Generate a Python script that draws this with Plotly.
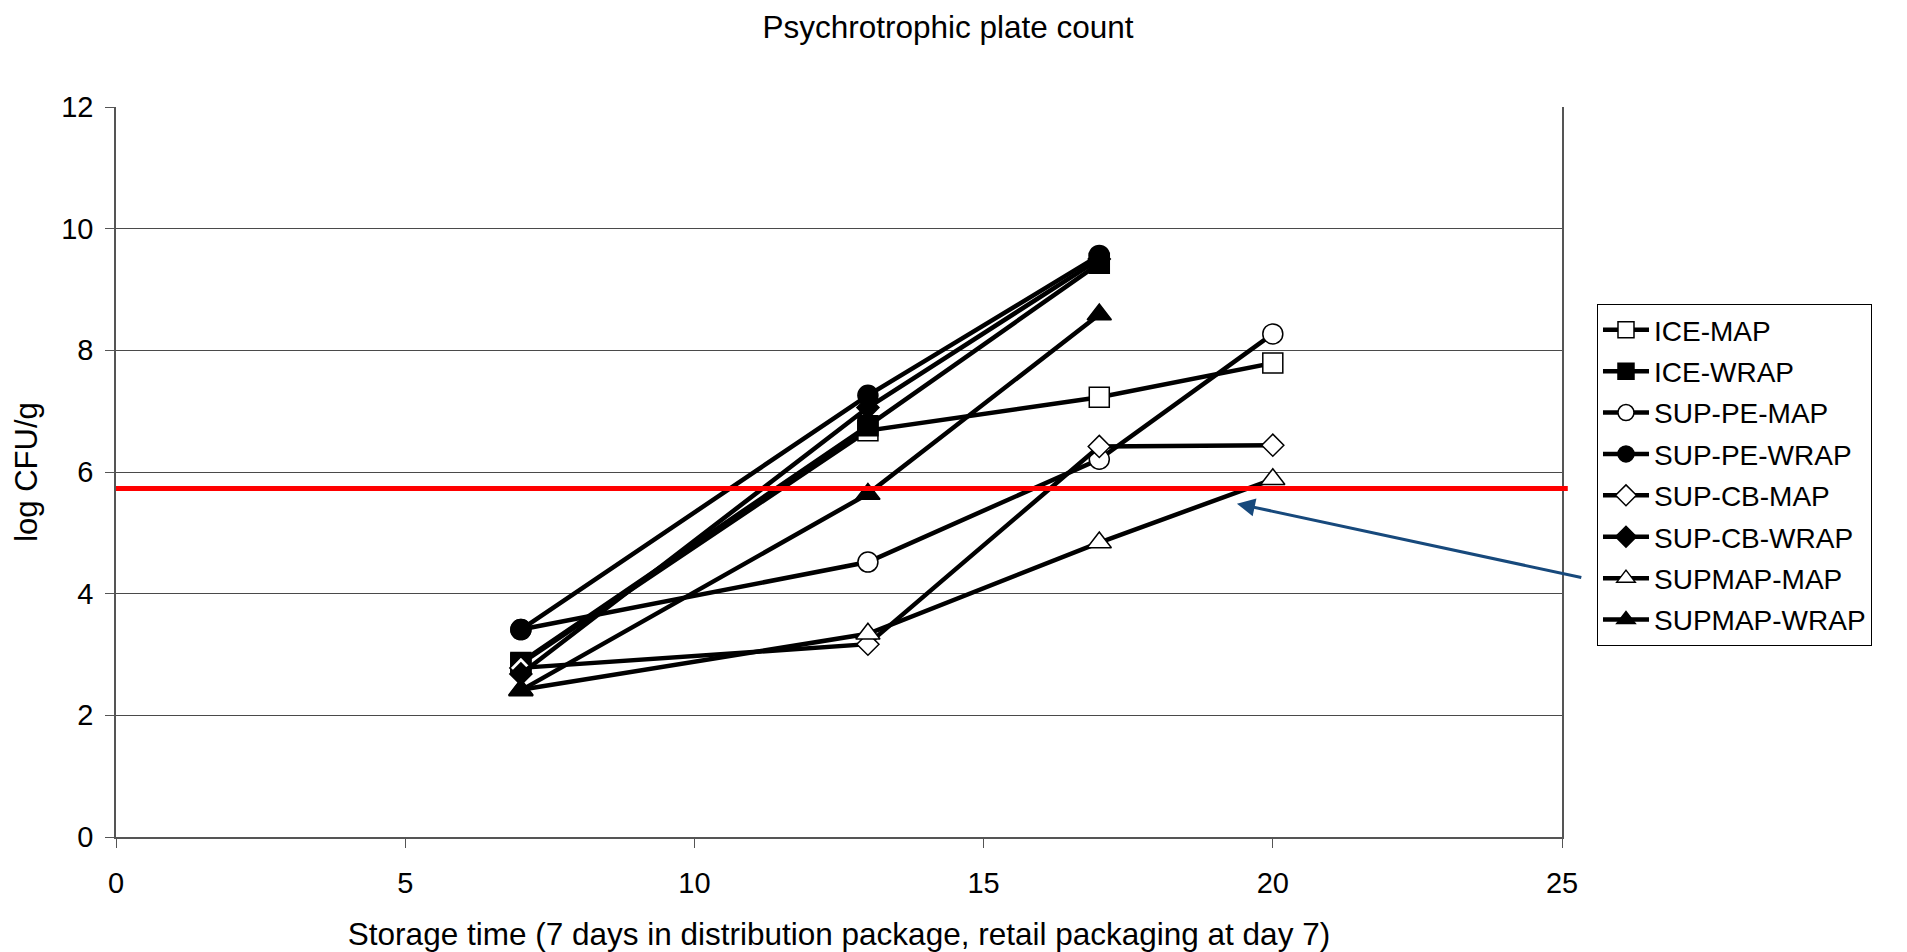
import plotly.graph_objects as go

# ---- data ----
series_names = ["ICE-MAP", "ICE-WRAP", "SUP-PE-MAP", "SUP-PE-WRAP",
                "SUP-CB-MAP", "SUP-CB-WRAP", "SUPMAP-MAP", "SUPMAP-WRAP"]
days_map = [7, 13, 17, 20]
days_wrap = [7, 13, 17]

ice_map = [2.85, 6.68, 7.23, 7.79]
ice_wrap = [2.87, 6.76, 9.43]
sup_pe_map = [3.41, 4.52, 6.21, 8.27]
sup_pe_wrap = [3.41, 7.26, 9.56]
sup_cb_map = [2.78, 3.17, 6.42, 6.44]
sup_cb_wrap = [2.68, 7.06, 9.50]
supmap_map = [2.42, 3.34, 4.84, 5.88]
supmap_wrap = [2.41, 5.64, 8.59]

threshold = 5.73
arrow_head = (19.38, 5.48)
arrow_tail = (25.36, 4.26)

title_text = "Psychrotrophic plate count"
x_title = "Storage time (7 days in distribution package, retail packaging at day 7)"
y_title = "log CFU/g"

# ---- styling ----
FONT = "Liberation Sans, Arial, sans-serif"
W, H = 1899, 944  # page body has an 8px margin
series = [
    (ice_map, days_map, "square", "white", 20),
    (ice_wrap, days_wrap, "square", "black", 20),
    (sup_pe_map, days_map, "circle", "white", 20),
    (sup_pe_wrap, days_wrap, "circle", "black", 20),
    (sup_cb_map, days_map, "diamond", "white", 17),
    (sup_cb_wrap, days_wrap, "diamond", "black", 17),
    (supmap_map, days_map, "triangle-up", "white", 21),
    (supmap_wrap, days_wrap, "triangle-up", "black", 21),
]

fig = go.Figure()
for name, (vals, xs, sym, fill, size) in zip(series_names, series):
    fig.add_trace(go.Scatter(
        x=xs, y=vals, name=name, mode="lines+markers",
        legendgroup=name,
        line=dict(color="black", width=4.5),
        marker=dict(symbol=sym, color=fill, size=size,
                    line=dict(color="black", width=1.5)),
        cliponaxis=False,
    ))

# red threshold line
fig.add_shape(type="line", xref="paper", yref="y", x0=0, x1=1.004,
              y0=threshold, y1=threshold,
              line=dict(color="#ff0000", width=5), layer="above")

# arrow
fig.add_annotation(x=arrow_head[0], y=arrow_head[1], ax=arrow_tail[0], ay=arrow_tail[1],
                   xref="x", yref="y", axref="x", ayref="y", text="",
                   showarrow=True, arrowhead=2, arrowsize=1.2, arrowwidth=3,
                   arrowcolor="#17497C", standoff=0)

fig.update_layout(
    width=W, height=H,
    paper_bgcolor="white", plot_bgcolor="white",
    margin=dict(l=108, r=345, t=99, b=115, autoexpand=False),
    font=dict(family=FONT, color="black", size=29),
    title=dict(text=title_text, x=(948 - 8) / W, xref="container", xanchor="center",
               y=1 - 19 / H, yref="container", yanchor="middle",
               automargin=False,
               font=dict(family=FONT, size=31.5, color="black")),
    showlegend=True,
    legend=dict(x=1.0242, y=0.7301, xanchor="left", yanchor="top",
                xref="paper", yref="paper",
                bordercolor="black", borderwidth=1, bgcolor="white",
                font=dict(family=FONT, size=28, color="black"),
                tracegroupgap=2, itemwidth=46),
)

fig.update_xaxes(range=[0, 25], tick0=0, dtick=5, showgrid=False, zeroline=False,
                 automargin=False,
                 showline=True, linecolor="#555555", linewidth=2, mirror=False,
                 ticks="outside", ticklen=9, tickcolor="#555555", tickwidth=1,
                 ticklabelstandoff=10,
                 tickfont=dict(family=FONT, size=29, color="black"),
                 title=dict(text=x_title, standoff=30,
                            font=dict(family=FONT, size=31.5, color="black")))
fig.update_yaxes(range=[0, 12], tick0=0, dtick=2, showgrid=True, gridcolor="#4a4a4a",
                 gridwidth=1, zeroline=False, automargin=False,
                 showline=True, linecolor="#555555", linewidth=1.5, mirror=True,
                 ticks="outside", ticklen=9, tickcolor="#555555", tickwidth=1,
                 ticklabelstandoff=6,
                 tickfont=dict(family=FONT, size=29, color="black"),
                 title=dict(text=y_title, standoff=14,
                            font=dict(family=FONT, size=31, color="black")))

fig.write_html("out.html")
